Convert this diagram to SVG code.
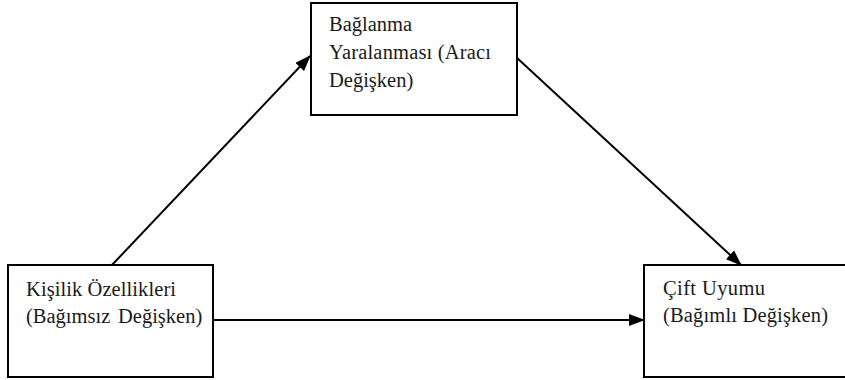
<svg xmlns="http://www.w3.org/2000/svg" width="845" height="380" viewBox="0 0 845 380">
<defs>
<marker id="ah" markerWidth="16" markerHeight="12" refX="15" refY="6" orient="auto" markerUnits="userSpaceOnUse">
<path d="M0,0 L16,6 L0,12 Z" fill="#000"/>
</marker>
<style>
.box{fill:#fff;stroke:#000;stroke-width:2}
.t{font-family:"Liberation Serif","Times New Roman",serif;font-size:20.5px;fill:#1a1a1a}
.c{stroke:#000;stroke-width:2;fill:none;marker-end:url(#ah)}
</style>
</defs>
<rect width="845" height="380" fill="#fff"/>
<g id="connectors">
<line class="c" x1="112" y1="265" x2="310" y2="56"/>
<line class="c" x1="516" y1="57" x2="741" y2="265"/>
<line class="c" x1="213" y1="320" x2="644" y2="320"/>
</g>
<g id="node-baglanma">
<rect class="box" x="311" y="3" width="206" height="112"/>
<text class="t" x="329" y="31">Bağlanma</text>
<text class="t" x="329" y="59" textLength="162" lengthAdjust="spacing">Yaralanması (Aracı</text>
<text class="t" x="329" y="87">Değişken)</text>
</g>
<g id="node-kisilik">
<rect class="box" x="8" y="265" width="205" height="112"/>
<text class="t" x="26" y="296" textLength="150" lengthAdjust="spacing">Kişilik Özellikleri</text>
<text class="t" x="26" y="323">(Bağımsız</text>
<text class="t" x="118" y="323">Değişken)</text>
</g>
<g id="node-cift">
<rect class="box" x="644" y="265" width="210" height="112"/>
<text class="t" x="663" y="295" textLength="102" lengthAdjust="spacing">Çift Uyumu</text>
<text class="t" x="663" y="322" textLength="165" lengthAdjust="spacing">(Bağımlı Değişken)</text>
</g>
</svg>
